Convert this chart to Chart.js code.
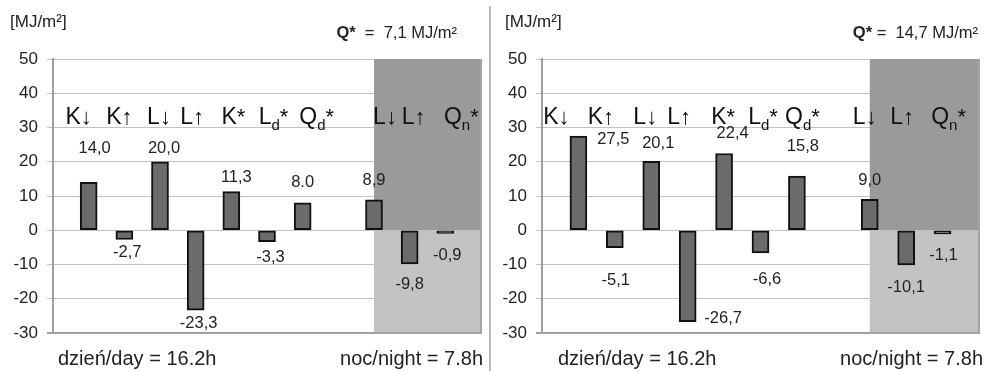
<!DOCTYPE html>
<html>
<head>
<meta charset="utf-8">
<script src="https://cdn.jsdelivr.net/npm/chart.js@4.4.0/dist/chart.umd.min.js"></script>
<style>
  body { margin: 0; background: #fff; font-family: "Liberation Sans", Arial, sans-serif; }
  #wrap { position: relative; width: 986px; height: 371px; overflow: hidden; }
  .panel { position: absolute; top: 0; height: 371px; }
  .txt { position: absolute; white-space: nowrap; color: #222; }
  .unit { font-size: 17px; line-height: 17px; top: 13px; }
  .net { font-size: 16.5px; line-height: 16px; top: 24px; }
  .foot { font-size: 20px; line-height: 20px; top: 348px; }
  #sep { position: absolute; left: 489px; top: 6px; width: 2px; height: 365px; background: #b9b9b9; }
</style>
</head>
<body>
<div id="wrap">
  <div class="panel" style="left:0;width:489px">
    <canvas id="chartA" width="489" height="371"></canvas>
    <div class="txt unit" style="left:10px">[MJ/m²]</div>
    <div class="txt net" style="right:32px"><b>Q*</b>&nbsp; =&nbsp; <span id="netA"></span> MJ/m²</div>
    <div class="txt foot" style="left:58px">dzień/day = 16.2h</div>
    <div class="txt foot" style="right:6px">noc/night = 7.8h</div>
  </div>
  <div id="sep"></div>
  <div class="panel" style="left:491px;width:495px">
    <canvas id="chartB" width="495" height="371"></canvas>
    <div class="txt unit" style="left:14px">[MJ/m²]</div>
    <div class="txt net" style="right:8px"><b>Q*</b> =&nbsp; <span id="netB"></span> MJ/m²</div>
    <div class="txt foot" style="left:67px">dzień/day = 16.2h</div>
    <div class="txt foot" style="right:3px">noc/night = 7.8h</div>
  </div>
</div>
<script>
// kategorie (puste sloty = odstęp i krawędzie osi)
const categories = ['', 'K↓', 'K↑', 'L↓', 'L↑', 'K*', 'Ld*', 'Qd*', '', 'L↓', 'L↑', 'Qn*', ''];
const nightStart = 9; // od L↓ nocą

// lewy panel
const valuesA = [null, 14.0, -2.7, 20.0, -23.3, 11.3, -3.3, 8.0, null, 8.9, -9.8, -0.9, null];
const textsA = ['', '14,0', '-2,7', '20,0', '-23,3', '11,3', '-3,3', '8.0', '', '8,9', '-9,8', '-0,9', ''];
const netA = '7,1';

// prawy panel
const valuesB = [null, 27.5, -5.1, 20.1, -26.7, 22.4, -6.6, 15.8, null, 9.0, -10.1, -1.1, null];
const textsB = ['', '27,5', '-5,1', '20,1', '-26,7', '22,4', '-6,6', '15,8', '', '9,0', '-10,1', '-1,1', ''];
const netB = '14,7';

const yMin = -30, yMax = 50, yStep = 10;

document.getElementById('netA').textContent = netA;
document.getElementById('netB').textContent = netB;

const FONT = '"Liberation Sans", Arial, sans-serif';

// przesunięcia etykiet (px) względem końca słupka
const valOffA = [null, [6, -34], [3, 13], [4, -13.5], [3, 13], [5, -14], [3.5, 16], [0, -20], null, [0, -19.5], [0, 21], [2, 22], null];
const valOffB = [null, [35, 3], [1, 32.5], [7, -18], [35.5, -3], [8.5, -20], [6.5, 27], [6, -30], null, [0, -19], [0, 23], [1, 21], null];
const catOffA = [0, -10, -5, -1, -3.5, 2, 6.5, 14, 0, 11, 4, 16, 0];
const catOffB = [0, -22, -14, -6, -8.5, -1, 2.5, 5.5, 0, -5, -4, 6, 0];

// tło nocy
const nightPlugin = {
  id: 'night',
  beforeDatasetsDraw(chart) {
    const { ctx, chartArea: a, scales: { x, y } } = chart;
    const x0 = x.getPixelForValue(nightStart);
    const y0 = y.getPixelForValue(0);
    ctx.save();
    ctx.fillStyle = '#9a9a9a';
    ctx.fillRect(x0, a.top, a.right - x0, y0 - a.top);
    ctx.fillStyle = '#c3c3c3';
    ctx.fillRect(x0, y0, a.right - x0, a.bottom - y0);
    ctx.strokeStyle = '#a4a4a4';
    ctx.lineWidth = 2;
    ctx.beginPath();
    ctx.moveTo(x0, a.bottom);
    ctx.lineTo(a.right, a.bottom);
    ctx.lineTo(a.right, a.top);
    ctx.stroke();
    ctx.restore();
  }
};

// nazwy składników nad słupkami (indeks dolny + gwiazdka)
function drawCatLabel(ctx, label, cx, base) {
  const parts = [];
  parts.push({ t: label[0], size: 23, dy: 0 });
  for (const ch of label.slice(1)) {
    if (/[a-z]/.test(ch)) parts.push({ t: ch, size: 15, dy: 6 });
    else parts.push({ t: ch, size: 22, dy: 0 });
  }
  let w = 0;
  parts.forEach(p => { ctx.font = p.size + 'px ' + FONT; p.w = ctx.measureText(p.t).width; w += p.w; });
  let x = cx - w / 2;
  parts.forEach(p => {
    ctx.font = p.size + 'px ' + FONT;
    ctx.fillText(p.t, x, base + p.dy);
    x += p.w;
  });
}

const catLabelPlugin = {
  id: 'catLabels',
  afterDatasetsDraw(chart, args, opts) {
    const { ctx, chartArea: a, scales: { x } } = chart;
    ctx.save();
    ctx.fillStyle = '#111';
    ctx.textAlign = 'left';
    ctx.textBaseline = 'alphabetic';
    categories.forEach((c, i) => {
      if (!c) return;
      drawCatLabel(ctx, c, x.getPixelForValue(i) + opts.dx[i], a.top + 65);
    });
    ctx.restore();
  }
};

const valLabelPlugin = {
  id: 'valLabels',
  afterDatasetsDraw(chart, args, opts) {
    const { ctx } = chart;
    const meta = chart.getDatasetMeta(0);
    ctx.save();
    ctx.fillStyle = '#222';
    ctx.font = '16.5px ' + FONT;
    ctx.textAlign = 'center';
    ctx.textBaseline = 'middle';
    meta.data.forEach((bar, i) => {
      const off = opts.off[i];
      if (!off || !opts.texts[i]) return;
      ctx.fillText(opts.texts[i], bar.x + off[0], bar.y + off[1]);
    });
    ctx.restore();
  }
};

function makeChart(id, values, texts, valOff, catOff, axisW, padRight) {
  return new Chart(document.getElementById(id), {
    type: 'bar',
    data: {
      labels: categories,
      datasets: [{
        data: values,
        backgroundColor: '#6b6b6b',
        borderColor: '#111',
        borderWidth: 2,
        borderSkipped: false,
        barThickness: 17
      }]
    },
    options: {
      responsive: false,
      animation: false,
      layout: { padding: { left: 0, right: padRight, top: 59, bottom: 38 } },
      plugins: {
        legend: { display: false },
        tooltip: { enabled: false },
        catLabels: { dx: catOff },
        valLabels: { texts: texts, off: valOff }
      },
      scales: {
        x: { display: false, offset: false },
        y: {
          min: yMin, max: yMax,
          ticks: { stepSize: yStep, color: '#222', padding: 9, font: { family: FONT, size: 17 } },
          grid: {
            color: c => c.tick && c.tick.value === yMin ? '#a0a0a0' : '#c2c2c2',
            lineWidth: c => c.tick && c.tick.value === yMin ? 2 : 1,
            tickLength: 6
          },
          border: { color: '#a0a0a0', width: 2 },
          afterFit(s) { s.width = axisW; }
        }
      }
    },
    plugins: [nightPlugin, catLabelPlugin, valLabelPlugin]
  });
}

makeChart('chartA', valuesA, textsA, valOffA, catOffA, 53, 8);
makeChart('chartB', valuesB, textsB, valOffB, catOffB, 51, 7);
</script>
</body>
</html>
